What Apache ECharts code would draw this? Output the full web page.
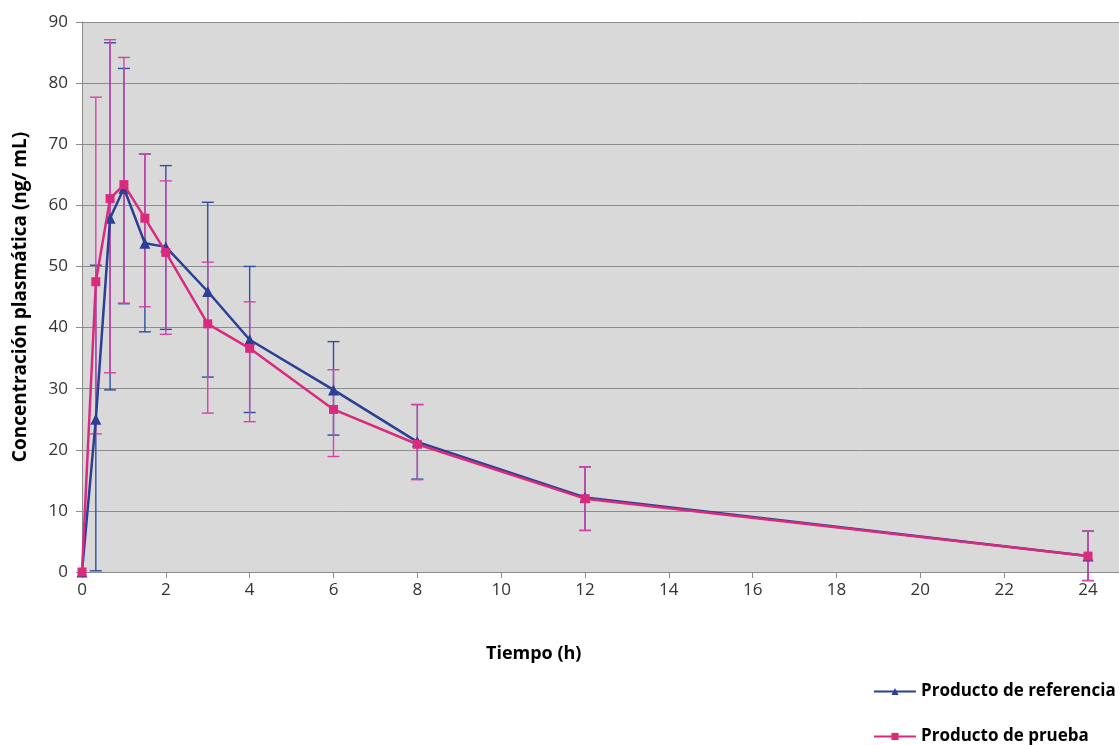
<!DOCTYPE html>
<html>
<head>
<meta charset="utf-8">
<script src="https://cdn.jsdelivr.net/npm/echarts@6/dist/echarts.min.js"></script>
<style>
  html, body { margin: 0; padding: 0; background: #fff; }
  #chart { width: 1119px; height: 745px; }
</style>
</head>
<body>
<div id="chart"></div>
<script>
// tiempos de muestreo (h)
const tiempos = [0, 0.33, 0.67, 1, 1.5, 2, 3, 4, 6, 8, 12, 24]

// producto de referencia
const refMedia = [0, 25.0, 57.9, 62.8, 53.8, 53.2, 45.9, 38.0, 29.8, 21.3, 12.2, 2.6]
const refAlto = [0, 50.2, 86.6, 82.4, 68.4, 66.5, 60.5, 50.0, 37.7, 27.4, 17.2, 6.7]
const refBajo = [0, 0.2, 29.8, 43.9, 39.3, 39.7, 31.9, 26.1, 22.4, 15.2, 6.8, -1.4]

// producto de prueba
const prbMedia = [0, 47.5, 61.1, 63.4, 57.9, 52.3, 40.6, 36.6, 26.6, 20.9, 12.0, 2.6]
const prbAlto = [0, 77.7, 87.1, 84.2, 68.4, 64.0, 50.7, 44.2, 33.1, 27.4, 17.2, 6.7]
const prbBajo = [0, 22.6, 32.6, 44.0, 43.4, 38.9, 26.0, 24.6, 18.9, 15.1, 6.8, -1.4]

const azul = '#2b3f94'
const rosa = '#d92b7e'
const azulBarra = '#2f4fa3'
const rosaBarra = '#d444a6'

const chart = echarts.init(document.getElementById('chart'))

// barras de error dibujadas con una serie custom
function barras(alto, bajo, color, nombre) {
  return {
    type: 'custom',
    name: nombre + '_err',
    z: 1,
    clip: false,
    silent: true,
    data: tiempos.map((t, i) => [t, bajo[i], alto[i]]).filter((d) => d[2] > d[1]),
    renderItem: (params, api) => {
      const top = api.coord([api.value(0), api.value(2)])
      const bot = api.coord([api.value(0), api.value(1)])
      const w = 6
      const st = { stroke: color, lineWidth: 1.4 }
      return {
        type: 'group',
        children: [
          { type: 'line', shape: { x1: top[0], y1: top[1], x2: bot[0], y2: bot[1] }, style: st },
          { type: 'line', shape: { x1: top[0] - w, y1: top[1], x2: top[0] + w, y2: top[1] }, style: st },
          { type: 'line', shape: { x1: bot[0] - w, y1: bot[1], x2: bot[0] + w, y2: bot[1] }, style: st }
        ]
      }
    }
  }
}

const fuente = "'Open Sans', 'Noto Sans', sans-serif"
const leyendaTexto = { fontFamily: fuente, fontWeight: 'bold', fontSize: 17, color: '#000' }

const option = {
  animation: false,
  grid: {
    left: 82,
    top: 22,
    bottom: 173,
    width: 26 * 41.917,
    outerBoundsMode: 'none',
    containLabel: false,
    show: true,
    backgroundColor: '#d9d9d9',
    borderWidth: 0
  },
  // título del eje x (el gráfico original está recortado a la derecha)
  graphic: [
    {
      type: 'text',
      left: 486,
      top: 645,
      style: {
        text: 'Tiempo (h)',
        font: "bold 18px 'Open Sans', 'Noto Sans', sans-serif",
        fill: '#000'
      }
    }
  ],
  legend: [
    {
      left: 868,
      top: 678,
      itemWidth: 42,
      itemHeight: 9,
      data: ['Producto de referencia'],
      textStyle: leyendaTexto
    },
    {
      left: 868,
      top: 723,
      itemWidth: 42,
      itemHeight: 9,
      data: ['Producto de prueba'],
      textStyle: leyendaTexto
    }
  ],
  xAxis: {
    type: 'value',
    min: 0,
    max: 26,
    interval: 2,
    axisLine: { show: true, onZero: false, lineStyle: { color: '#8c8c8c', width: 1 } },
    axisTick: { show: true, length: 6, lineStyle: { color: '#8c8c8c' } },
    axisLabel: {
      margin: 10,
      fontFamily: fuente,
      fontSize: 17,
      color: '#333',
      formatter: (v) => (v > 24 ? '' : v)
    },
    splitLine: { show: false }
  },
  yAxis: {
    type: 'value',
    min: 0,
    max: 90,
    interval: 10,
    name: 'Concentración plasmática (ng/ mL)',
    nameLocation: 'middle',
    nameGap: 52,
    nameTextStyle: { fontFamily: fuente, fontWeight: 'bold', fontSize: 19, color: '#000' },
    axisLine: { show: true, lineStyle: { color: '#8c8c8c', width: 1 } },
    axisTick: { show: true, length: 6, lineStyle: { color: '#8c8c8c' } },
    axisLabel: { margin: 14, fontFamily: fuente, fontSize: 17, color: '#333' },
    splitLine: { show: true, lineStyle: { color: '#8c8c8c', width: 1 } }
  },
  series: [
    barras(refAlto, refBajo, azulBarra, 'ref'),
    barras(prbAlto, prbBajo, rosaBarra, 'prb'),
    {
      name: 'Producto de referencia',
      type: 'line',
      z: 3,
      data: tiempos.map((t, i) => [t, refMedia[i]]),
      symbol: 'triangle',
      symbolSize: 11,
      showAllSymbol: true,
      lineStyle: { color: azul, width: 2.5 },
      itemStyle: { color: azul },
      emphasis: { disabled: true }
    },
    {
      name: 'Producto de prueba',
      type: 'line',
      z: 4,
      data: tiempos.map((t, i) => [t, prbMedia[i]]),
      symbol: 'rect',
      symbolSize: 9,
      showAllSymbol: true,
      lineStyle: { color: rosa, width: 2.5 },
      itemStyle: { color: rosa },
      emphasis: { disabled: true }
    }
  ]
}

chart.setOption(option)
</script>
</body>
</html>
